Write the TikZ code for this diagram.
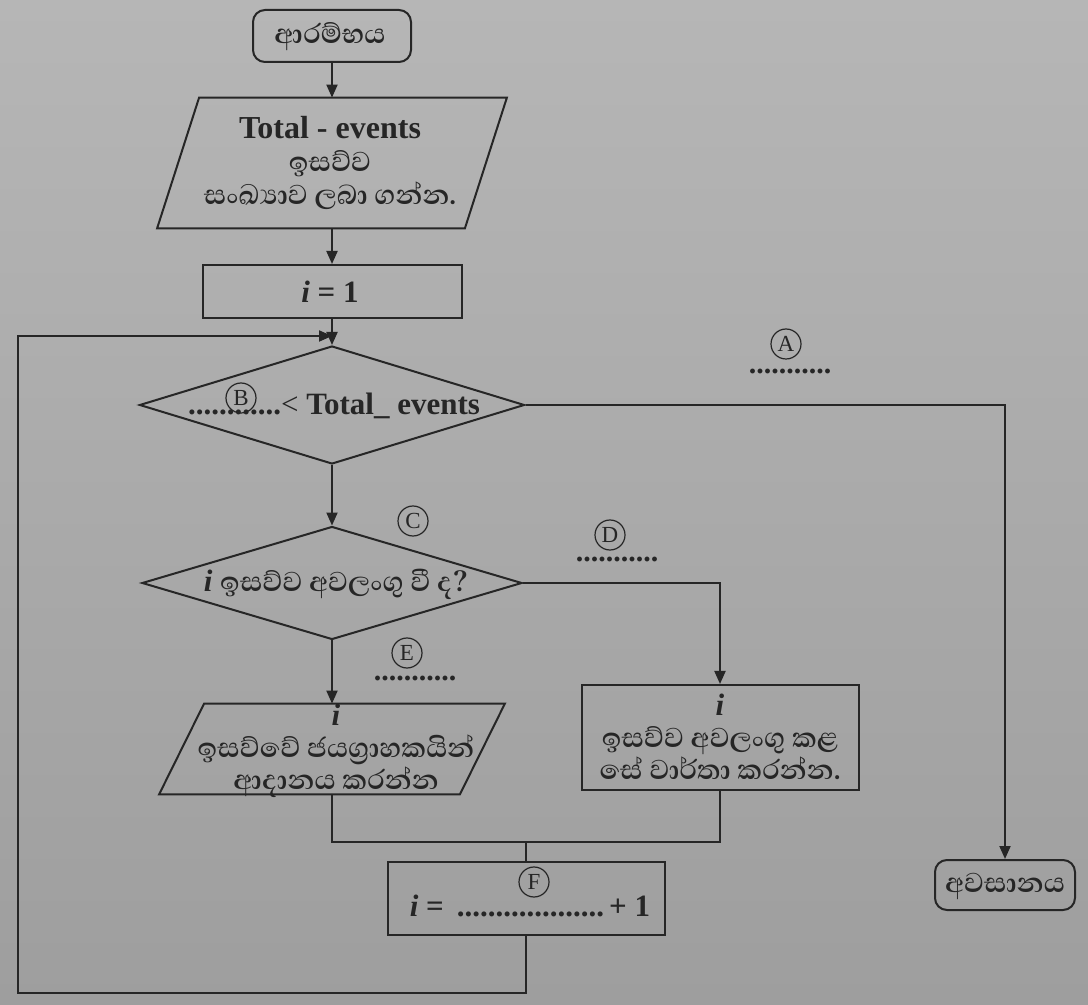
\documentclass[tikz,border=0pt]{standalone}
\usepackage{fontspec}
\setmainfont{Liberation Serif}
\newfontfamily\slfont[Script=Sinhala]{Abhaya Libre}
\usetikzlibrary{shapes.geometric,arrows.meta}
\definecolor{ink}{HTML}{262626}
\definecolor{bgtop}{HTML}{B6B6B6}
\definecolor{bgbot}{HTML}{9E9E9E}
\newcommand{\sntxt}[1]{{\fontsize{17.5}{16}\selectfont\slfont\bfseries #1}}
\begin{document}
\begin{tikzpicture}[x=0.5pt,y=-0.5pt,
  line/.style={draw=ink,line width=1pt},
  arr/.style={line,-{Triangle[length=6.5pt,width=5.5pt]}},
  term/.style={draw=ink,line width=1pt,rounded corners=6pt,inner sep=0pt},
  proc/.style={draw=ink,line width=1pt,inner sep=0pt},
  iobox/.style={draw=none,inner sep=0pt},
  dec/.style={diamond,draw=ink,line width=1pt,inner sep=0pt},
  txt/.style={align=center,inner sep=0pt,text=ink,font=\fontsize{15.5}{16}\selectfont},
  circ/.style={circle,draw=ink,line width=0.6pt,inner sep=0pt,minimum size=15pt,text=ink,font=\fontsize{11.5}{11.5}\selectfont},
  dots/.style={inner sep=0pt,text height=2pt,text depth=0pt,text=ink,font=\fontsize{15}{15}\selectfont\bfseries}]
\shade[top color=bgtop,bottom color=bgbot] (0,0) rectangle (1088,1005);
\useasboundingbox (0,0) rectangle (1088,1005);

% shapes
\node[term,minimum width=79pt,minimum height=26pt] (start) at (332,36) {};
\node[txt] (startt) at (330,37) {\sntxt{ආරම්භය}};
\node[iobox,minimum width=153.5pt,minimum height=65pt] (in1) at (332,163) {};
\draw[line] ([xshift=10.5pt]in1.north west) -- ([xshift=10.5pt]in1.north east)
  -- ([xshift=-10.5pt]in1.south east) -- ([xshift=-10.5pt]in1.south west) -- cycle;
\node[txt,font=\fontsize{16}{16.5}\selectfont] (in1t) at (330,163) {\textbf{Total - events}\\ \sntxt{ඉසව්ව}\\ \sntxt{සංඛ^^^^0dca^^^^200dයාව ලබා ගන්න.}};
\node[proc,minimum width=129.5pt,minimum height=26.5pt] (init) at (332,291.5) {};
\node[txt] (initt) at (330,292) {\textbf{\textit{i} = 1}};
\node[dec,minimum width=192.5pt,minimum height=59pt] (d1) at (332,405) {};
\node[txt] (d1t) at (334,406) {\textbf{............}< \textbf{Total\_ events}};
\node[dec,minimum width=190pt,minimum height=56.5pt] (d2) at (332,583) {};
\node[txt] (d2t) at (336,584) {\textbf{\textit{i}} \sntxt{ඉසව්ව අවලංගු වී ද?}};
\node[iobox,minimum width=150pt,minimum height=45pt] (in2) at (332,749) {};
\draw[line] ([xshift=11.25pt]in2.north west) -- ([xshift=11.25pt]in2.north east)
  -- ([xshift=-11.25pt]in2.south east) -- ([xshift=-11.25pt]in2.south west) -- cycle;
\node[txt] (in2t) at (336,751) {\textbf{\textit{i}}\\ \sntxt{ඉසව්වේ ජයග^^^^0dca^^^^200dරාහකයින්}\\ \sntxt{ආදානය කරන්න}};
\node[proc,minimum width=138.5pt,minimum height=52.5pt] (rep) at (720,737.5) {};
\node[txt] (rept) at (720,737) {\textbf{\textit{i}}\\ \sntxt{ඉසව්ව අවලංගු කළ}\\ \sntxt{සේ වාර්තා කරන්න.}};
\node[proc,minimum width=138.5pt,minimum height=36.5pt] (inc) at (526,898.5) {};
\node[txt] (inct) at (530,906) {\textbf{\textit{i} = \,...................\,+ 1}};
\node[term,minimum width=70pt,minimum height=25pt] (stop) at (1005,885) {};
\node[txt] (stopt) at (1005,886) {\sntxt{අවසානය}};

% labels
\node[circ] (cA) at (786,344) {A};
\node[dots] (dA) at (790,372) {...........};
\node[circ] (cB) at (241,398) {B};
\node[circ] (cC) at (413,521) {C};
\node[circ] (cD) at (610,535) {D};
\node[dots] (dD) at (617,560) {...........};
\node[circ] (cE) at (407,653) {E};
\node[dots] (dE) at (415,679) {...........};
\node[circ] (cF) at (534,882) {F};

% connectors
\coordinate (j1) at (332,336);
\coordinate (lb) at (18,993);
\coordinate (lt) at (18,336);
\coordinate (m) at (526,842);
\draw[arr] (start) -- (in1);
\draw[arr] (in1) -- (init);
\draw[arr] (init) -- (d1);
\draw[arr] (inc.south) |- (lb) -- (lt) -- (j1);
\draw[arr] (d1.east) -| (stop.north);
\draw[arr] (d1) -- (d2);
\draw[arr] (d2.east) -| (rep.north);
\draw[arr] (d2) -- (in2);
\draw[line] (in2.south) |- (m) -| (rep.south);
\draw[line] (m) -- (inc.north);
\end{tikzpicture}
\end{document}
